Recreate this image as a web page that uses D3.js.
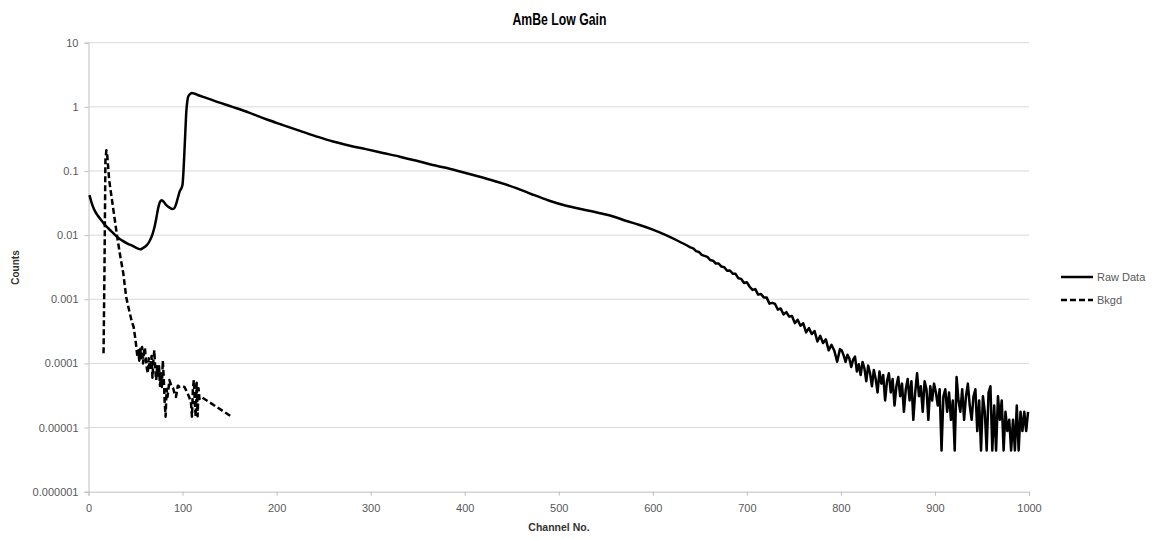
<!DOCTYPE html>
<html>
<head>
<meta charset="utf-8">
<script src="https://cdn.jsdelivr.net/npm/d3@7"></script>
<style>
  html, body { margin: 0; padding: 0; background: #ffffff; }
  svg { display: block; font-family: "Liberation Sans", Arial, sans-serif; }
</style>
</head>
<body>
<svg id="chart" width="1158" height="539"></svg>
<script>
// ---- Data ---------------------------------------------------------------
const chartTitle = "AmBe Low Gain";
const xAxisTitle = "Channel No.";
const yAxisTitle = "Counts";
const seriesNames = ["Raw Data", "Bkgd"];

const xTickValues = [0, 100, 200, 300, 400, 500, 600, 700, 800, 900, 1000];
const yTickValues = [10, 1, 0.1, 0.01, 0.001, 0.0001, 0.00001, 0.000001];
const yTickLabels = ["10", "1", "0.1", "0.01", "0.001", "0.0001", "0.00001", "0.000001"];

// Raw Data spectrum
const rawChannels = [
  1, 3, 6, 10, 14, 17, 21, 25, 31, 36, 42, 47, 52, 55, 58, 62, 65, 68, 70, 72,
  74, 76, 78, 80, 83, 86, 89, 91, 93, 95, 97, 99, 100, 101, 102, 103, 104, 105, 106, 108,
  110, 113, 116, 125, 134, 153, 170, 189, 205, 224, 242, 260, 278, 295, 313, 331, 349, 366, 380, 391,
  405, 419, 437, 455, 472, 490, 508, 526, 544, 558, 572, 586, 600, 614, 627,
  640, 643, 646, 649, 652, 655, 658, 661, 664, 667, 670, 673, 676, 679, 682, 685, 688, 691, 694, 697,
  700, 703, 706, 709, 712, 715, 718, 721, 724, 727, 730, 733, 736, 739, 742, 745, 748, 751, 754, 757,
  760, 763, 766, 769, 772, 775, 778, 781, 784, 787, 790, 793, 796, 799,
  801, 803, 805, 807, 809, 811, 813, 815, 817, 819, 821, 823, 825, 827, 829, 831, 833, 835, 837, 839,
  841, 843, 845, 847, 849, 851, 853, 855, 857, 859, 861, 863, 865, 867, 869, 871, 873, 875, 877, 879,
  881, 883, 885, 887, 889, 891, 893, 895, 897, 899, 901, 903, 905, 907, 909, 911, 913, 915, 917, 919,
  921, 923, 925, 927, 929, 931, 933, 935, 937, 939, 941, 943, 945, 947, 949, 951, 953, 955, 957, 959,
  961, 963, 965, 967, 969, 971, 973, 975, 977, 979, 981, 983, 985, 987, 989, 991, 993, 995, 997, 999
];
const rawCounts = [
  0.042, 0.033, 0.025, 0.020, 0.0168, 0.0147, 0.0128, 0.0112, 0.0092, 0.0082, 0.0073, 0.0068, 0.0062, 0.0060, 0.0063, 0.0070, 0.0081, 0.0103, 0.013, 0.018,
  0.026, 0.033, 0.035, 0.033, 0.029, 0.027, 0.0255, 0.026, 0.030, 0.038, 0.048, 0.055, 0.062, 0.10, 0.20, 0.42, 0.84, 1.2, 1.44, 1.58,
  1.64, 1.60, 1.53, 1.38, 1.24, 1.0, 0.82, 0.64, 0.53, 0.425, 0.347, 0.288, 0.248, 0.219, 0.191, 0.167, 0.144, 0.124, 0.112, 0.102,
  0.090, 0.079, 0.066, 0.054, 0.043, 0.0344, 0.0287, 0.0251, 0.0219, 0.0195, 0.0166, 0.0144, 0.0122, 0.0100, 0.0081,
  0.00646, 0.00621, 0.00564, 0.00546, 0.00492, 0.00474, 0.00458, 0.00409, 0.00399, 0.00361, 0.00361, 0.00324, 0.00316, 0.00278, 0.00281, 0.00251, 0.00249, 0.00213, 0.00208, 0.00179,
  0.00184, 0.00157, 0.00140, 0.00144, 0.00118, 0.00121, 0.00107, 0.00107, 0.000855, 0.00088, 0.000845, 0.00069, 0.00072, 0.00058, 0.00063, 0.000536, 0.00055, 0.000425, 0.00048, 0.000387,
  0.000422, 0.000304, 0.000355, 0.000287, 0.00032, 0.00022, 0.000269, 0.000208, 0.000237, 0.00016, 0.000195, 0.000158, 0.000106, 0.000167,
  1.584e-4, 1.32e-4, 1.056e-4, 1.364e-4, 1.188e-4, 8.8e-5, 1.144e-4, 1.276e-4, 7.48e-5, 9.68e-5, 6.6e-5, 1.056e-4, 8.36e-5, 5.28e-5, 9.24e-5, 7.04e-5, 4.4e-5, 7.92e-5, 5.72e-5, 3.52e-5,
  7.48e-5, 4.84e-5, 6.6e-5, 2.64e-5, 5.28e-5, 7.04e-5, 3.52e-5, 5.72e-5, 2.2e-5, 4.4e-5, 6.16e-5, 3.08e-5, 4.84e-5, 1.76e-5, 3.96e-5, 5.72e-5, 2.64e-5, 5.28e-5, 1.32e-5, 3.52e-5,
  7.04e-5, 3.08e-5, 4.4e-5, 1.76e-5, 5.28e-5, 3.96e-5, 1.32e-5, 4.4e-5, 2.64e-5, 4.84e-5, 3.52e-5, 2.2e-5, 3.96e-5, 4.4e-6, 3.08e-5, 3.96e-5, 1.76e-5, 3.52e-5, 1.32e-5, 2.64e-5,
  4.4e-6, 6.16e-5, 2.64e-5, 1.76e-5, 3.96e-5, 1.32e-5, 3.08e-5, 4.84e-5, 2.2e-5, 1.32e-5, 3.08e-5, 3.96e-5, 8.8e-6, 2.64e-5, 4.4e-6, 3.08e-5, 1.76e-5, 4.4e-6, 3.52e-5, 4.4e-5,
  4.4e-6, 2.2e-5, 4.4e-6, 3.08e-5, 1.32e-5, 2.64e-5, 4.4e-6, 1.76e-5, 8.8e-6, 1.32e-5, 4.4e-6, 1.32e-5, 4.4e-6, 2.2e-5, 4.4e-6, 1.76e-5, 8.8e-6, 1.76e-5, 8.8e-6, 1.76e-5
];

// Background spectrum
const bkgdChannels = [
  16, 17, 18, 19, 20, 22, 25, 28, 31, 34, 37, 40, 42, 44, 46, 48, 50, 52, 53, 54,
  55, 56, 57, 58, 59, 60, 61, 62, 63, 64, 65, 66, 67, 68, 69, 70, 71, 72, 73, 74,
  75, 76, 77, 78, 79, 80, 81, 82, 83, 84, 85, 86, 88, 90, 92, 93, 95, 97, 100, 102,
  105, 107, 109, 110, 111, 112, 113, 114, 115, 116, 117, 118, 120, 153
];
const bkgdCounts = [
  0.000144, 0.003, 0.15, 0.21, 0.17, 0.072, 0.035, 0.0172, 0.0084, 0.0045, 0.00254, 0.0011, 0.0008, 0.0006, 0.00045, 0.00037, 0.00023, 0.000127, 0.00016, 0.00011,
  0.00017, 0.00012, 0.00018, 0.0001, 0.00015, 0.000175, 0.00011, 0.000085, 0.00007, 0.00012, 0.00008, 0.00009, 0.00013, 0.00006, 0.00011, 0.00016, 0.00008, 0.000055, 0.00009, 0.00006,
  0.00009, 0.000045, 0.00007, 0.000043, 0.00011, 0.00006, 0.000025, 0.0000148, 0.00004, 0.00003, 0.00004, 0.000055, 0.000045, 0.000041, 0.000032, 0.00003, 0.000045, 0.000043, 0.000044, 0.000043,
  0.000035, 0.00003, 0.000024, 0.0000148, 0.00004, 0.000055, 0.000025, 0.0000148, 0.00005, 0.000015, 0.000041, 0.000028, 0.00003, 0.0000145
];

// ---- Layout -------------------------------------------------------------
const plot = { left: 88.5, right: 1029, top: 42.7, bottom: 491.7 };
const gridColor = "#d9d9d9";
const axisColor = "#bfbfbf";
const labelColor = "#595959";
// channels below this are sampled sparsely and drawn with a smooth curve
const smoothUntilChannel = 640;

const svg = d3.select("#chart");

const x = d3.scaleLinear().domain([0, 1000]).range([plot.left, plot.right]);
const y = d3.scaleLog().domain([0.000001, 10]).range([plot.bottom, plot.top]);

// Horizontal gridlines at each decade
svg.append("g")
  .selectAll("line")
  .data(yTickValues.filter(v => v !== 0.000001))
  .join("line")
  .attr("x1", plot.left).attr("x2", plot.right)
  .attr("y1", d => y(d)).attr("y2", d => y(d))
  .attr("stroke", gridColor).attr("stroke-width", 1);

// Y axis
const yAxis = d3.axisLeft(y)
  .tickValues(yTickValues)
  .tickFormat((d, i) => yTickLabels[i])
  .tickSize(4)
  .tickPadding(6);
const gy = svg.append("g").attr("transform", `translate(${plot.left},0)`).call(yAxis);
gy.select(".domain").attr("stroke", axisColor).attr("stroke-width", 1);
gy.selectAll(".tick line").attr("stroke", axisColor);
gy.selectAll(".tick text")
  .attr("fill", labelColor)
  .style("font-size", "11px");

// X axis
const xAxis = d3.axisBottom(x)
  .tickValues(xTickValues)
  .tickFormat(d3.format("d"))
  .tickSize(4)
  .tickPadding(8.5);
const gx = svg.append("g").attr("transform", `translate(0,${plot.bottom})`).call(xAxis);
gx.select(".domain").attr("stroke", axisColor).attr("stroke-width", 1);
gx.selectAll(".tick line").attr("stroke", axisColor);
gx.selectAll(".tick text")
  .attr("fill", labelColor)
  .style("font-size", "11px");

// Series lines
const smoothLine = d3.line()
  .curve(d3.curveMonotoneX)
  .x(d => x(d[0]))
  .y(d => y(d[1]));
const straightLine = d3.line()
  .x(d => x(d[0]))
  .y(d => y(d[1]));

const rawData = rawChannels.map((c, i) => [c, rawCounts[i]]);
const bkgdData = bkgdChannels.map((c, i) => [c, bkgdCounts[i]]);
const rawPath = smoothLine(rawData.filter(d => d[0] <= smoothUntilChannel)) +
  straightLine(rawData.filter(d => d[0] >= smoothUntilChannel)).replace(/^M/, "L");

svg.append("path")
  .attr("d", rawPath)
  .attr("fill", "none")
  .attr("stroke", "#000")
  .attr("stroke-width", 2.5)
  .attr("stroke-linejoin", "round");

svg.append("path")
  .datum(bkgdData)
  .attr("d", straightLine)
  .attr("fill", "none")
  .attr("stroke", "#000")
  .attr("stroke-width", 2.5)
  .attr("stroke-dasharray", "6,3")
  .attr("stroke-linejoin", "round");

// Title and axis titles
svg.append("text")
  .attr("x", 559.5).attr("y", 25)
  .attr("text-anchor", "middle")
  .attr("textLength", 94).attr("lengthAdjust", "spacingAndGlyphs")
  .style("font-size", "17px").style("font-weight", "bold")
  .attr("fill", "#000")
  .text(chartTitle);

svg.append("text")
  .attr("x", 559).attr("y", 531)
  .attr("text-anchor", "middle")
  .style("font-size", "10.5px").style("font-weight", "bold")
  .attr("fill", "#333")
  .text(xAxisTitle);

svg.append("text")
  .attr("transform", "translate(18.5,267.5) rotate(-90)")
  .attr("text-anchor", "middle")
  .style("font-size", "10px").style("font-weight", "bold")
  .attr("fill", "#333")
  .text(yAxisTitle);

// Legend
const legendY = [277, 300];
const legend = svg.append("g");
seriesNames.forEach((name, i) => {
  legend.append("line")
    .attr("x1", 1061).attr("x2", 1093)
    .attr("y1", legendY[i]).attr("y2", legendY[i])
    .attr("stroke", "#000").attr("stroke-width", 2.5)
    .attr("stroke-dasharray", i === 1 ? "6,3" : null);
  legend.append("text")
    .attr("x", 1097).attr("y", legendY[i])
    .attr("dy", "0.35em")
    .style("font-size", "11px")
    .attr("fill", labelColor)
    .text(name);
});
</script>
</body>
</html>
